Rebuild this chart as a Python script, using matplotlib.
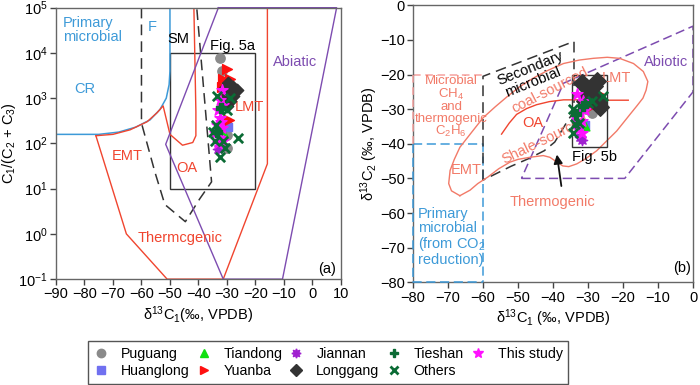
import matplotlib
matplotlib.use("Agg")
import matplotlib.pyplot as plt
from matplotlib.lines import Line2D
from matplotlib.ticker import LogLocator, NullLocator
import numpy as np

plt.rcParams['font.family'] = ['Liberation Sans', 'DejaVu Sans']
plt.rcParams['mathtext.fontset'] = 'custom'
plt.rcParams['mathtext.rm'] = 'Liberation Sans'
plt.rcParams['mathtext.it'] = 'Liberation Sans'
plt.rcParams['mathtext.bf'] = 'Liberation Sans'
plt.rcParams['font.size'] = 10

# ---------------- data: panel (a) d13C1 vs C1/(C2+C3) ----------------
a_puguang_x = [-32.5, -31.7, -30.2, -30.0, -30.1]
a_puguang_y = [7800, 3900, 290, 150, 80]
a_huanglong_x = [-29.5, -30.2]
a_huanglong_y = [225, 300]
a_tiandong_x = [-31.3]
a_tiandong_y = [175]
a_yuanba_x = [-30.1, -31.3, -29.0, -28.4, -31.8, -30.5, -29.4]
a_yuanba_y = [4500, 2700, 2700, 2100, 1800, 1300, 330]
a_jiannan_x = [-33.1, -32.5]
a_jiannan_y = [76, 125]
a_longgang_x = [-29.5, -27.8, -26.6, -28.9, -30.1, -27.8, -28.9, -30.1, -31.0]
a_longgang_y = [2150, 1800, 1500, 1300, 1100, 1100, 850, 660, 1600]
a_tieshan_x = [-33.5, -32.0]
a_tieshan_y = [180, 600]
a_others_x = [-33.6, -28.9, -30.0, -34.8, -34.2, -26.0, -31.3, -32.5, -30.7, -34.0]
a_others_y = [1100, 1000, 550, 175, 115, 135, 115, 50, 80, 260]
a_study_x = [-31.9, -32.5, -33.1, -32.5, -33.6, -31.9, -34.2, -32.5, -31.3, -33.0, -31.5, -32.0]
a_study_y = [1500, 910, 560, 370, 260, 220, 170, 135, 115, 100, 700, 300]

# ---------------- data: panel (b) d13C1 vs d13C2 ----------------
b_puguang_x = [-30.5, -29.0]
b_puguang_y = [-30.0, -31.0]
b_huanglong_x = [-31.0]
b_huanglong_y = [-34.5]
b_tiandong_x = [-31.0]
b_tiandong_y = [-35.0]
b_yuanba_x = [-28.6, -27.0, -29.5]
b_yuanba_y = [-28.6, -25.5, -29.5]
b_jiannan_x = [-32.3, -31.6]
b_jiannan_y = [-38.0, -38.8]
b_longgang_x = [-31.8, -30.6, -29.4, -28.3, -27.2, -26.6, -27.4, -28.4, -30.1, -30.9]
b_longgang_y = [-22.3, -23.5, -24.8, -26.2, -27.8, -29.3, -21.8, -23.2, -26.3, -27.5]
b_tieshan_x = [-33.5, -31.5]
b_tieshan_y = [-31.5, -29.0]
b_others_x = [-25.7, -30.0, -34.3, -33.7, -32.6, -34.3, -29.0]
b_others_y = [-26.3, -28.2, -30.0, -34.3, -34.0, -37.0, -27.5]
b_study_x = [-33.2, -31.4, -32.3, -31.0, -33.2, -31.8, -32.8, -31.8, -33.6]
b_study_y = [-25.6, -27.7, -30.6, -30.1, -33.3, -33.4, -35.8, -36.8, -31.5]

# ---------------- field outlines, panel (a) (log10 of ratio) ----------------
prim_x = [-90, -75, -68, -62, -57, -53.5, -51.3, -50.3, -50, -50]
prim_logy = [2.2, 2.2, 2.25, 2.36, 2.52, 2.75, 3.0, 3.3, 3.6, 5]
sm_x = [-60, -60, -55.3, -51.8, -44.6, -39.5, -35.4, -40.6]
sm_logy = [5, 2.45, 1.37, 0.65, 0.27, 0.78, 1.15, 5]
emt_x = [-76, -70, -64, -58, -54.5, -52.4, -50.0, -45.6, -42.0, -40.9, -40.9, -41.6]
emt_logy = [2.17, 2.2, 2.3, 2.48, 2.68, 2.83, 2.2, 1.96, 2.02, 2.17, 2.7, 5]
therm_x = [-76, -65.3, -51, -31.3, -15.8, -15.8]
therm_logy = [2.17, 0.0, -1, -1, 1.55, 5]
abio_a_x = [-33, -51.5, -31.3, -10.5, 8.5, -33]
abio_a_logy = [5, 1.98, -1, -1, 5, 5]

# ---------------- field outlines, panel (b) ----------------
therm_b_x = [-66.6, -69.0, -69.8, -69.4, -68.2, -66.6, -63.5, -60.0, -56.5, -53.0, -49.5,
             -45.6, -41.5, -37.0, -32.5, -28.5, -24.5, -21.0, -17.0, -14.2, -12.9, -13.4,
             -14.3, -16.0, -18.0, -21.8, -25.0, -27.5, -30.5, -33.2, -35.5, -37.2, -39.0,
             -40.9, -42.8, -46.6, -50.0, -52.3, -55.5, -58.6, -61.5, -63.7, -66.6]
therm_b_y = [-55.0, -53.6, -51.5, -47.7, -44.5, -41.0, -37.0, -32.5, -29.3, -26.3, -23.5,
             -21.0, -18.8, -16.8, -15.8, -15.3, -15.0, -15.3, -16.8, -19.1, -22.0, -24.5,
             -26.8, -29.0, -31.5, -36.3, -39.5, -42.0, -44.2, -45.8, -46.6, -46.4, -45.2,
             -43.9, -43.4, -43.9, -44.5, -45.3, -47.2, -49.6, -51.5, -53.4, -55.0]
oa_b_x = [-54.7, -52.5, -50.4, -47.5, -44.7, -41.0, -37.0, -33.0, -28.0, -18.5]
oa_b_y = [-37.2, -34.0, -31.5, -29.8, -28.7, -27.8, -27.3, -27.3, -27.4, -27.4]
sec_b_x = [-60, -60, -34, -34, -36.5, -39.5, -42.5, -47, -52, -60]
sec_b_y = [-50.5, -20.5, -10.4, -30.5, -34.5, -39.5, -42, -44.3, -46.5, -50.5]
abio_b_x = [-49, -19.5, 0, 0, -37, -49]
abio_b_y = [-50, -50, -25, -6, -22.5, -50]

RED = '#f0452f'
SALMON = '#f27a68'
PINK = '#f5a3a0'
BLUE = '#3d9ad8'
PURPLE = '#7d4cb0'
DARK = '#333333'
GREEN = '#0b6b35'

styles = {
    'Puguang': dict(marker='o', color='#8a8a8a', s=45),
    'Huanglong': dict(marker='s', color='#7070f0', s=35),
    'Tiandong': dict(marker='^', color='#10e010', s=40),
    'Yuanba': dict(marker='>', color='#ff1010', s=50),
    'Jiannan': dict(marker=(8, 1, 0), color='#a020d0', s=55),
    'Longgang': dict(marker='D', color='#333333', s=40),
    'Tieshan': dict(marker='P', color=GREEN, s=50),
    'Others': dict(marker='x', color=GREEN, s=45, linewidths=2),
    'This study': dict(marker='*', color='#ff10ff', s=70),
}

fig = plt.figure(figsize=(7, 3.85), dpi=100)
ax1 = fig.add_axes([0.08, 0.275, 0.407, 0.705])
ax2 = fig.add_axes([0.59, 0.267, 0.40, 0.719])

# ---------------- panel (a) ----------------
ax1.set_yscale('log')
ax1.set_xlim(-90, 10)
ax1.set_ylim(0.1, 1e5)
ax1.plot(prim_x, 10 ** np.array(prim_logy), color=BLUE, lw=1.1)
ax1.plot(sm_x, 10 ** np.array(sm_logy), color=DARK, lw=1.1, ls=(0, (7, 4)))
ax1.plot(emt_x, 10 ** np.array(emt_logy), color=RED, lw=1.0)
ax1.plot(therm_x, 10 ** np.array(therm_logy), color=RED, lw=1.0, clip_on=False)
ax1.plot(abio_a_x, 10 ** np.array(abio_a_logy), color=PURPLE, lw=1.0, clip_on=False)
ax1.add_patch(plt.Rectangle((-50, 10), 30, 9990, fill=False, ec=DARK, lw=1.0))

a_sets = [
    ('Puguang', a_puguang_x, a_puguang_y), ('Huanglong', a_huanglong_x, a_huanglong_y),
    ('Tiandong', a_tiandong_x, a_tiandong_y), ('Yuanba', a_yuanba_x, a_yuanba_y),
    ('Longgang', a_longgang_x, a_longgang_y), ('Jiannan', a_jiannan_x, a_jiannan_y),
    ('This study', a_study_x, a_study_y), ('Tieshan', a_tieshan_x, a_tieshan_y),
    ('Others', a_others_x, a_others_y),
]
for i, (name, xs, ys) in enumerate(a_sets):
    ax1.scatter(xs, ys, zorder=3 + i, **styles[name])

ax1.text(-87.5, 10 ** 4.5, 'Primary\nmicrobial', color=BLUE, fontsize=10.5, va='center', linespacing=1.0)
ax1.text(-56.3, 10 ** 4.57, 'F', color=BLUE, fontsize=10.5, ha='center', va='center')
ax1.text(-79.8, 10 ** 3.2, 'CR', color=BLUE, fontsize=10.5, ha='center', va='center')
ax1.text(-47, 10 ** 4.3, 'SM', color='k', fontsize=10.5, ha='center', va='center')
ax1.text(-28, 10 ** 4.15, 'Fig. 5a', color='k', fontsize=10.5, ha='center', va='center')
ax1.text(-6.2, 10 ** 3.8, 'Abiatic', color=PURPLE, fontsize=10.5, ha='center', va='center')
ax1.text(-22.1, 10 ** 2.8, 'LMT', color=RED, fontsize=10.5, ha='center', va='center')
ax1.text(-65, 10 ** 1.72, 'EMT', color=RED, fontsize=10.5, ha='center', va='center')
ax1.text(-44, 10 ** 1.46, 'OA', color=RED, fontsize=10.5, ha='center', va='center')
ax1.text(-46.5, 10 ** -0.1, 'Thermcgenic', color=RED, fontsize=10.5, ha='center', va='center')
ax1.text(5, 10 ** -0.78, '(a)', color='k', fontsize=10.5, ha='center', va='center')

ax1.set_xticks(np.arange(-90, 11, 10))
ax1.yaxis.set_major_locator(LogLocator(base=10, numticks=10))
ax1.yaxis.set_minor_locator(NullLocator())
ax1.set_xlabel('δ$^{13}$C$_1$(‰, VPDB)', fontsize=10.5, labelpad=2)
ax1.set_ylabel('C$_1$/(C$_2$ + C$_3$)', fontsize=10.5, labelpad=0)

# ---------------- panel (b) ----------------
ax2.set_xlim(-80, 0)
ax2.set_ylim(-80, 0)
ax2.plot([-80, -60], [-20, -20], color=PINK, lw=1.1, ls=(0, (5, 3)))
ax2.plot([-80, -80], [-20, -40], color=PINK, lw=1.1, ls=(0, (5, 3)), clip_on=False, zorder=4)
ax2.plot([-80, -60, -60], [-40, -40, -80], color=BLUE, lw=1.1, ls=(0, (6, 3)))
ax2.plot([-80, -80, -60], [-40, -80, -80], color=BLUE, lw=1.1, ls=(0, (6, 3)), clip_on=False, zorder=4)
ax2.plot(sec_b_x, sec_b_y, color=DARK, lw=1.1, ls=(0, (7, 4)))
ax2.plot(abio_b_x, abio_b_y, color=PURPLE, lw=1.1, ls=(0, (6, 3)), clip_on=False)
ax2.plot(therm_b_x, therm_b_y, color=SALMON, lw=1.0)
ax2.plot(oa_b_x, oa_b_y, color=RED, lw=1.0)
ax2.add_patch(plt.Rectangle((-34.6, -41), 10, 21, fill=False, ec=DARK, lw=1.0, zorder=2))
ax2.annotate('', xy=(-39, -42.3), xytext=(-37.5, -53),
             arrowprops=dict(arrowstyle='-|>', color='#111111', lw=1.3, mutation_scale=13))

b_sets = [
    ('Puguang', b_puguang_x, b_puguang_y), ('Huanglong', b_huanglong_x, b_huanglong_y),
    ('Tiandong', b_tiandong_x, b_tiandong_y), ('Yuanba', b_yuanba_x, b_yuanba_y),
    ('Longgang', b_longgang_x, b_longgang_y), ('Jiannan', b_jiannan_x, b_jiannan_y),
    ('This study', b_study_x, b_study_y), ('Tieshan', b_tieshan_x, b_tieshan_y),
    ('Others', b_others_x, b_others_y),
]
for i, (name, xs, ys) in enumerate(b_sets):
    st = dict(styles[name])
    if name == 'Longgang':
        st['s'] = 80
    ax2.scatter(xs, ys, zorder=3 + i, **st)

ax2.text(-69.1, -29.4, 'Microbial\nCH$_4$\nand\nthermogenic\nC$_2$H$_6$', color=SALMON, fontsize=9.5,
         ha='center', va='center', linespacing=0.95)
ax2.text(-78.6, -67, 'Primary\nmicrobial\n(from CO$_2$\nreduction)', color=BLUE, fontsize=10.5,
         ha='left', va='center', linespacing=1.0)
ax2.text(-46.6, -18.3, 'Secondary', color='k', fontsize=10.5, ha='center', va='center', rotation=22)
ax2.text(-45.6, -22.3, 'microbial', color='k', fontsize=10.5, ha='center', va='center', rotation=22)
ax2.text(-40.8, -24.6, 'coal-sourced', color=SALMON, fontsize=10.5, ha='center', va='center', rotation=27)
ax2.text(-42.3, -38.7, 'Shale-sourced', color=SALMON, fontsize=10.5, ha='center', va='center', rotation=26,
         zorder=2)
ax2.text(-45.7, -33.9, 'OA', color=RED, fontsize=10.5, ha='center', va='center')
ax2.text(-21.9, -21, 'LMT', color=SALMON, fontsize=10.5, ha='center', va='center')
ax2.text(-64.8, -47.7, 'EMT', color=SALMON, fontsize=10.5, ha='center', va='center')
ax2.text(-7.8, -16.3, 'Abiotic', color=PURPLE, fontsize=10.5, ha='center', va='center')
ax2.text(-28, -43.9, 'Fig. 5b', color='k', fontsize=10.5, ha='center', va='center')
ax2.text(-40, -56.9, 'Thermogenic', color=SALMON, fontsize=10.5, ha='center', va='center')
ax2.text(-3.2, -76, '(b)', color='k', fontsize=10.5, ha='center', va='center')

ax2.set_xticks(np.arange(-80, 1, 10))
ax2.set_yticks(np.arange(-80, 1, 10))
ax2.set_xlabel('δ$^{13}$C$_1$ (‰, VPDB)', fontsize=10.5, labelpad=2)
ax2.set_ylabel('δ$^{13}$C$_2$ (‰, VPDB)', fontsize=10.5, labelpad=0)

for ax in (ax1, ax2):
    for sp in ax.spines.values():
        sp.set_color('#666666')
        sp.set_linewidth(1.0)
    ax.tick_params(direction='out', length=4, width=1, color='#444444', labelsize=10.5, pad=2)

# ---------------- legend ----------------
order = ['Puguang', 'Huanglong', 'Tiandong', 'Yuanba', 'Jiannan', 'Longgang', 'Tieshan', 'Others', 'This study']
handles = []
for name in order:
    st = styles[name]
    mew = 2 if name == 'Others' else 1
    handles.append(Line2D([], [], ls='none', marker=st['marker'], color=st['color'],
                          markersize=np.sqrt(st['s']) * 0.9, markeredgewidth=mew))
leg = fig.legend(handles, order, ncol=5, loc='lower left', bbox_to_anchor=(88 / 700, 0.003),
                 fontsize=10.2, frameon=True, fancybox=False, framealpha=1, edgecolor='#555555',
                 handlelength=1.0, handletextpad=0.9, columnspacing=0.5, labelspacing=0.25,
                 borderpad=0.4, borderaxespad=0)
leg.get_frame().set_linewidth(1.0)

fig.savefig('out.png', dpi=100)
